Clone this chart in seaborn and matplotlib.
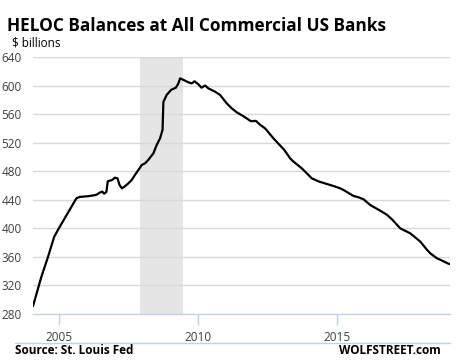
import matplotlib
matplotlib.use('Agg')
import matplotlib.pyplot as plt
import matplotlib.lines as mlines
import pandas as pd
import seaborn as sns

# HELOC balances, $ billions (decimal years)
years = [2004.06, 2004.36, 2004.60, 2004.82, 2004.96, 2005.20, 2005.44, 2005.62, 2005.74,
         2006.04, 2006.22, 2006.34, 2006.46, 2006.55, 2006.62, 2006.70, 2006.75, 2006.90,
         2007.01, 2007.10, 2007.17, 2007.26, 2007.37, 2007.49, 2007.61, 2007.73, 2007.91,
         2007.97, 2008.09, 2008.21, 2008.39, 2008.51, 2008.63, 2008.72, 2008.75, 2008.87,
         2009.03, 2009.20, 2009.29, 2009.35, 2009.47, 2009.65, 2009.77, 2009.87, 2010.01,
         2010.12, 2010.25, 2010.37, 2010.61, 2010.79, 2011.03, 2011.21, 2011.39, 2011.63,
         2011.90, 2012.08, 2012.23, 2012.41, 2012.71, 2013.10, 2013.31, 2013.43, 2013.73,
         2014.09, 2014.35, 2014.60, 2014.87, 2015.11, 2015.23, 2015.59, 2015.77, 2015.95,
         2016.19, 2016.55, 2016.79, 2016.97, 2017.27, 2017.63, 2017.99, 2018.23, 2018.35,
         2018.59, 2018.71, 2019.00, 2019.06]
balances = [291, 332, 360, 388, 398, 414, 430, 442, 444,
            445, 446, 447, 450, 451.5, 448.5, 451, 466, 467.6,
            471, 470, 461, 456, 459, 463, 467.6, 475, 485,
            488.7, 491, 496, 505, 516.8, 526, 538, 577, 587,
            594, 597, 603, 610, 608, 604.5, 603, 606, 601.7,
            597, 600, 596, 591.4, 586.8, 575, 568, 562.5, 557,
            550, 550.5, 545, 540, 526, 509.8, 498, 493.4, 484,
            470, 465.5, 462.5, 459.3, 456, 453.7, 445.3, 443.5, 440.7,
            432.7, 424.7, 419, 412.7, 400, 393, 381.5, 370, 365,
            358, 356, 350.5, 350]

recession = [2007.92, 2009.45]
x_ticks = [2005, 2010, 2015]
y_ticks = [280, 320, 360, 400, 440, 480, 520, 560, 600, 640]

df = pd.DataFrame({'year': years, 'balance': balances})

sns.set_style('white')
plt.rcParams['font.family'] = ['Open Sans', 'DejaVu Sans']

fig = plt.figure(figsize=(4.63, 3.62), dpi=100)
ax = fig.add_axes([33/463, 48/362, 417/463, 257/362])

ax.axvspan(recession[0], recession[1], color='#e5e5e5', lw=0, zorder=0)
for y in y_ticks[1:]:
    ax.axhline(y, color='#d9d9d9', lw=1, zorder=1)

sns.lineplot(data=df, x='year', y='balance', color='black', lw=1.6, ax=ax, zorder=3)

ax.set_xlim(2004.06, 2019.06)
ax.set_ylim(280, 640)
ax.set_xticks(x_ticks)
ax.set_xticklabels([str(t) for t in x_ticks])
ax.set_yticks(y_ticks)
ax.set(xlabel='', ylabel='')

for s in ['top', 'right', 'left']:
    ax.spines[s].set_visible(False)
ax.spines['bottom'].set_color('#c5d0e3')
ax.spines['bottom'].set_linewidth(1)

ax.tick_params(axis='x', direction='out', length=8, width=1, color='#c5d0e3',
               labelsize=8.5, labelcolor='#404040', pad=4, bottom=True)
ax.tick_params(axis='y', length=0, labelsize=8.5, labelcolor='#404040', pad=8)

fig.text(7/463, 1 - 26/362, 'HELOC Balances at All Commercial US Banks', fontsize=12.4,
         fontweight='bold', color='black', va='center', ha='left')
fig.text(12/463, 1 - 43/362, '$ billions', fontsize=8.5, color='black', va='center', ha='left')

fig.add_artist(mlines.Line2D([15/463, 450/463], [1 - 343/362, 1 - 343/362],
                             color='#c5d0e3', lw=1, transform=fig.transFigure))
fig.text(15/463, 1 - 351/362, 'Source: St. Louis Fed', fontsize=8.5, fontweight='bold',
         color='black', va='center', ha='left')
fig.text(441/463, 1 - 351/362, 'WOLFSTREET.com', fontsize=8.5, fontweight='bold',
         color='black', va='center', ha='right')

plt.savefig('out.png', dpi=100)
plt.close('all')
